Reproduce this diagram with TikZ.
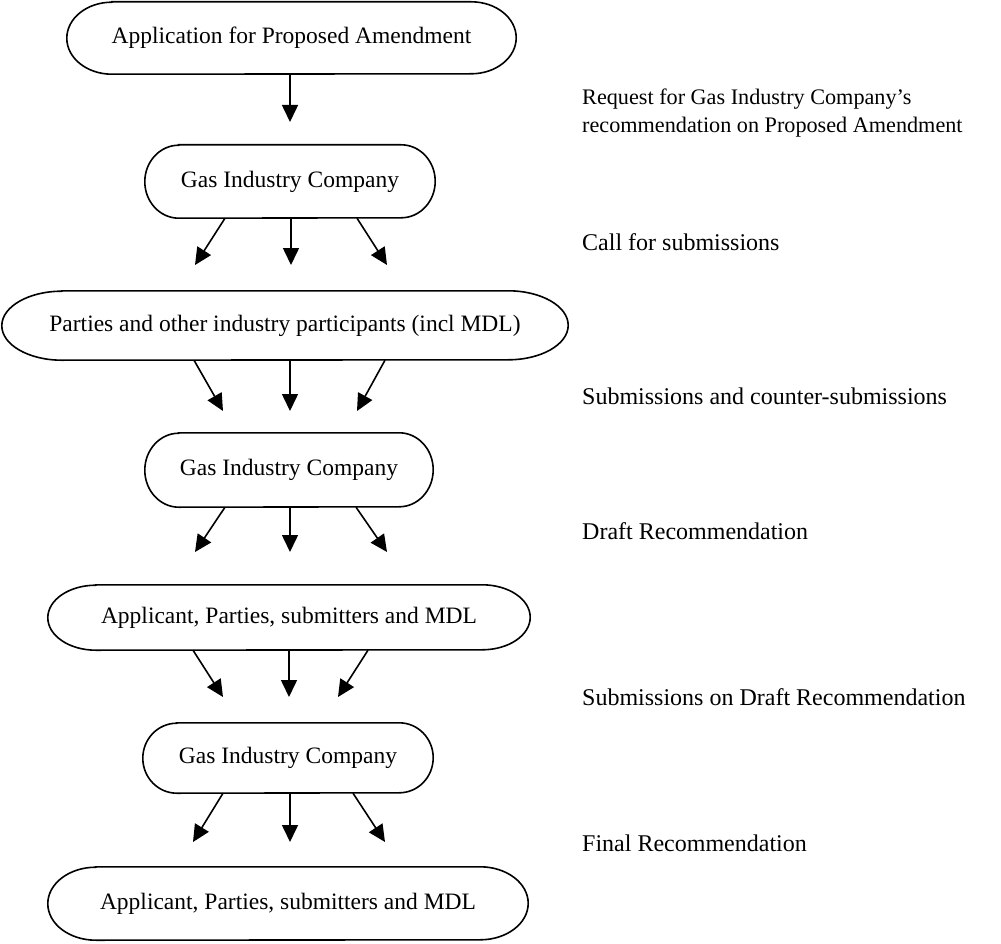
\documentclass[tikz,border=0pt]{standalone}
\usepackage{fontspec}
\setmainfont{Liberation Serif}
\usetikzlibrary{arrows.meta}
\newcommand\outl[3]{%
  \draw[boxline] ([xshift=#2pt]#1.north west) -- ([xshift=-#2pt]#1.north east)
    arc[start angle=90,end angle=-90,x radius=#2pt,y radius=#3pt]
    -- ([xshift=#2pt]#1.south west)
    arc[start angle=270,end angle=90,x radius=#2pt,y radius=#3pt] -- cycle;}
\begin{document}
\begin{tikzpicture}[x=1pt,y=1pt,
  every node/.style={font=\fontsize{23.5}{28}\selectfont, text=black},
  box/.style={draw=none, inner sep=0pt, align=center},
  boxline/.style={line width=1.6pt, black},
  arr/.style={line width=1.6pt, black, -{Triangle[length=17pt,width=16pt]}},
  lbl/.style={anchor=base west, inner sep=0pt, align=left, font=\fontsize{24}{28}\selectfont},
  lbls/.style={anchor=base west, inner sep=0pt, align=left, font=\fontsize{22.2}{28}\selectfont}]
\useasboundingbox (0,0) rectangle (1001,-944);
% nodes
\node[box, minimum width=449pt, minimum height=72pt] (a1) at (291.5,-38) {Application for Proposed Amendment};
\node[box, minimum width=290pt, minimum height=73pt] (g1) at (290,-181.5) {Gas Industry Company};
\node[box, minimum width=566pt, minimum height=69pt] (p) at (285,-325.5) {Parties and other industry participants (incl MDL)};
\node[box, minimum width=288pt, minimum height=74pt] (g2) at (289,-470) {Gas Industry Company};
\node[box, minimum width=482pt, minimum height=65pt] (ap1) at (289,-617.5) {Applicant, Parties, submitters and MDL};
\node[box, minimum width=290pt, minimum height=70pt] (g3) at (288,-758) {Gas Industry Company};
\node[box, minimum width=480pt, minimum height=73pt] (ap2) at (288,-903.5) {Applicant, Parties, submitters and MDL};
\outl{a1}{45}{36}
\outl{g1}{34}{36.5}
\outl{p}{60}{34.5}
\outl{g2}{34}{37}
\outl{ap1}{48}{32.5}
\outl{g3}{34}{35}
\outl{ap2}{48}{36.5}
% labels
\node[lbls] (l1) at (582,-105) {Request for Gas Industry Company's};
\node[lbls] (l1b) at (582,-133) {recommendation on Proposed Amendment};
\node[lbl] (l2) at (582,-250) {Call for submissions};
\node[lbl] (l3) at (582,-404) {Submissions and counter-submissions};
\node[lbl] (l4) at (582,-539) {Draft Recommendation};
\node[lbl] (l5) at (582,-705) {Submissions on Draft Recommendation};
\node[lbl] (l6) at (582,-851) {Final Recommendation};
% arrow tips
\coordinate (t1) at (290,-122);
\coordinate (t2a) at (195,-265);
\coordinate (t2b) at (291,-265);
\coordinate (t2c) at (387,-265);
\coordinate (t3a) at (223,-411);
\coordinate (t3b) at (290,-411);
\coordinate (t3c) at (357,-411);
\coordinate (t4a) at (195,-552);
\coordinate (t4b) at (290,-552);
\coordinate (t4c) at (387,-552);
\coordinate (t5a) at (223,-697);
\coordinate (t5b) at (289,-697);
\coordinate (t5c) at (338,-697);
\coordinate (t6a) at (193,-842);
\coordinate (t6b) at (290,-842);
\coordinate (t6c) at (385,-842);
% arrows
\draw[arr] ([xshift=-1.5pt]a1.south) -- (t1);
\draw[arr] ([xshift=-65pt]g1.south) -- (t2a);
\draw[arr] ([xshift=1pt]g1.south) -- (t2b);
\draw[arr] ([xshift=67pt]g1.south) -- (t2c);
\draw[arr] ([xshift=-91pt]p.south) -- (t3a);
\draw[arr] ([xshift=5pt]p.south) -- (t3b);
\draw[arr] ([xshift=100pt]p.south) -- (t3c);
\draw[arr] ([xshift=-64pt]g2.south) -- (t4a);
\draw[arr] ([xshift=1pt]g2.south) -- (t4b);
\draw[arr] ([xshift=67pt]g2.south) -- (t4c);
\draw[arr] ([xshift=-96pt]ap1.south) -- (t5a);
\draw[arr] (ap1.south) -- (t5b);
\draw[arr] ([xshift=79pt]ap1.south) -- (t5c);
\draw[arr] ([xshift=-65pt]g3.south) -- (t6a);
\draw[arr] ([xshift=2pt]g3.south) -- (t6b);
\draw[arr] ([xshift=65pt]g3.south) -- (t6c);
\end{tikzpicture}
\end{document}
